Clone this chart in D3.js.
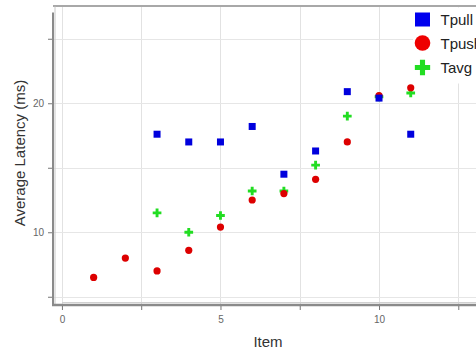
<!DOCTYPE html>
<html>
<head>
<meta charset="utf-8">
<script src="https://cdn.jsdelivr.net/npm/d3@7"></script>
<style>
  body { margin: 0; background: #fff; }
  svg { display: block; font-family: "Liberation Sans", Arial, sans-serif; }
</style>
</head>
<body>
<div id="chart"></div>
<script>
// values
const items = [1, 2, 3, 4, 5, 6, 7, 8, 9, 10, 11]
const tpull = [null, null, 17.6, 17.0, 17.0, 18.2, 14.5, 16.3, 20.9, 20.4, 17.6]
const tpush = [6.5, 8.0, 7.0, 8.6, 10.4, 12.5, 13.0, 14.1, 17.0, 20.6, 21.2]
const tavg = [null, null, 11.5, 10.0, 11.3, 13.2, 13.2, 15.2, 19.0, 20.5, 20.8]
const seriesNames = ["Tpull", "Tpush", "Tavg"]
const xTicks = [0, 2.5, 5, 7.5, 10, 12.5]
const xLabels = [0, 5, 10]
const yTicks = [5, 10, 15, 20, 25]
const yLabels = [10, 20]

const W = 476, H = 354

const x = d3.scaleLinear().domain([-0.25, 13.5]).range([54, 490])
const y = d3.scaleLinear().domain([4.4, 27.5]).range([304.5, 6.5])

const svg = d3.select("#chart").append("svg")
  .attr("width", W)
  .attr("height", H)

const pLeft = x(-0.25), pRight = W + 5, pTop = y(27.5), pBottom = y(4.4)

// grid
svg.append("g")
  .attr("stroke", "#e2e2e2")
  .attr("stroke-width", 1)
  .selectAll("line")
  .data(xTicks)
  .join("line")
    .attr("x1", d => Math.round(x(d)) + 0.5)
    .attr("x2", d => Math.round(x(d)) + 0.5)
    .attr("y1", pTop)
    .attr("y2", pBottom)

svg.append("g")
  .attr("stroke", "#e6e6e6")
  .attr("stroke-width", 1)
  .selectAll("line")
  .data(yTicks)
  .join("line")
    .attr("x1", pLeft)
    .attr("x2", pRight)
    .attr("y1", d => Math.round(y(d)) + 0.5)
    .attr("y2", d => Math.round(y(d)) + 0.5)

// frame with the grey shadowed look
svg.append("line")
  .attr("x1", pLeft - 1).attr("x2", pRight)
  .attr("y1", pTop - 0.5).attr("y2", pTop - 0.5)
  .attr("stroke", "#a8a8a8").attr("stroke-width", 2)
svg.append("line")
  .attr("x1", pLeft - 1).attr("x2", pLeft - 1)
  .attr("y1", pTop + 6).attr("y2", pBottom)
  .attr("stroke", "#8a8a8a").attr("stroke-width", 2)
svg.append("line")
  .attr("x1", pLeft + 1).attr("x2", pLeft + 1)
  .attr("y1", pTop).attr("y2", pBottom)
  .attr("stroke", "#c8c8c8").attr("stroke-width", 1)
svg.append("line")
  .attr("x1", pLeft - 2).attr("x2", pRight)
  .attr("y1", pBottom + 0.5).attr("y2", pBottom + 0.5)
  .attr("stroke", "#8a8a8a").attr("stroke-width", 2.5)
svg.append("line")
  .attr("x1", pLeft + 8).attr("x2", pRight)
  .attr("y1", pBottom - 2).attr("y2", pBottom - 2)
  .attr("stroke", "#d0d0d0").attr("stroke-width", 1)

// axes
const xAxis = svg.append("g")
  .attr("transform", `translate(0,${pBottom + 1.5})`)
  .call(d3.axisBottom(x).tickValues(xTicks).tickSize(4).tickPadding(6)
    .tickFormat(d => xLabels.includes(d) ? d : ""))
xAxis.select(".domain").remove()
xAxis.selectAll("line").attr("stroke", "#777")
xAxis.selectAll("text").attr("fill", "#666").attr("font-size", 10)
  .attr("font-family", "Liberation Sans, Arial, sans-serif")

const yAxis = svg.append("g")
  .attr("transform", `translate(${pLeft - 2},0)`)
  .call(d3.axisLeft(y).tickValues(yTicks).tickSize(4).tickPadding(4)
    .tickFormat(d => yLabels.includes(d) ? d : ""))
yAxis.select(".domain").remove()
yAxis.selectAll("line").attr("stroke", "#777")
yAxis.selectAll("text").attr("fill", "#666").attr("font-size", 10)
  .attr("font-family", "Liberation Sans, Arial, sans-serif")

// titles
svg.append("text")
  .attr("x", 268).attr("y", 347)
  .attr("text-anchor", "middle")
  .attr("font-size", 15)
  .attr("fill", "#333")
  .text("Item")

svg.append("text")
  .attr("transform", `translate(25,153) rotate(-90)`)
  .attr("text-anchor", "middle")
  .attr("font-size", 15)
  .attr("fill", "#333")
  .text("Average Latency (ms)")

// markers
const plus = d3.symbol().type(d3.symbolCross)
const pts = vals => items.map((d, i) => [d, vals[i]]).filter(p => p[1] != null)

svg.append("g")
  .selectAll("path")
  .data(pts(tavg))
  .join("path")
    .attr("transform", d => `translate(${x(d[0])},${y(d[1])})`)
    .attr("d", plus.size(42))
    .attr("fill", "#22dd22")

svg.append("g")
  .selectAll("circle")
  .data(pts(tpush))
  .join("circle")
    .attr("cx", d => x(d[0]))
    .attr("cy", d => y(d[1]))
    .attr("r", 3.6)
    .attr("fill", "#dd0000")

svg.append("g")
  .selectAll("rect")
  .data(pts(tpull))
  .join("rect")
    .attr("x", d => x(d[0]) - 3.5)
    .attr("y", d => y(d[1]) - 3.5)
    .attr("width", 7)
    .attr("height", 7)
    .attr("fill", "#0000dd")

// legend
const legend = svg.append("g")
legend.append("rect")
  .attr("x", 413).attr("y", pTop + 1)
  .attr("width", 70).attr("height", 76)
  .attr("fill", "#fff")

const ly = [19.5, 43, 67.5]
const legendColor = ["#0000ee", "#ee0000", "#22dd22"]
seriesNames.forEach((name, i) => {
  const g = legend.append("g").attr("transform", `translate(422.5,${ly[i]})`)
  if (i == 0) {
    g.append("rect").attr("x", -7.5).attr("y", -7).attr("width", 15).attr("height", 14)
      .attr("fill", legendColor[i])
  } else if (i == 1) {
    g.append("circle").attr("r", 7.8).attr("fill", legendColor[i])
  } else {
    g.append("path").attr("d", plus.size(130)).attr("fill", legendColor[i])
  }
  g.append("text")
    .attr("x", 18).attr("y", 5.5)
    .attr("font-size", 15)
    .attr("fill", "#222")
    .text(name)
})
</script>
</body>
</html>
